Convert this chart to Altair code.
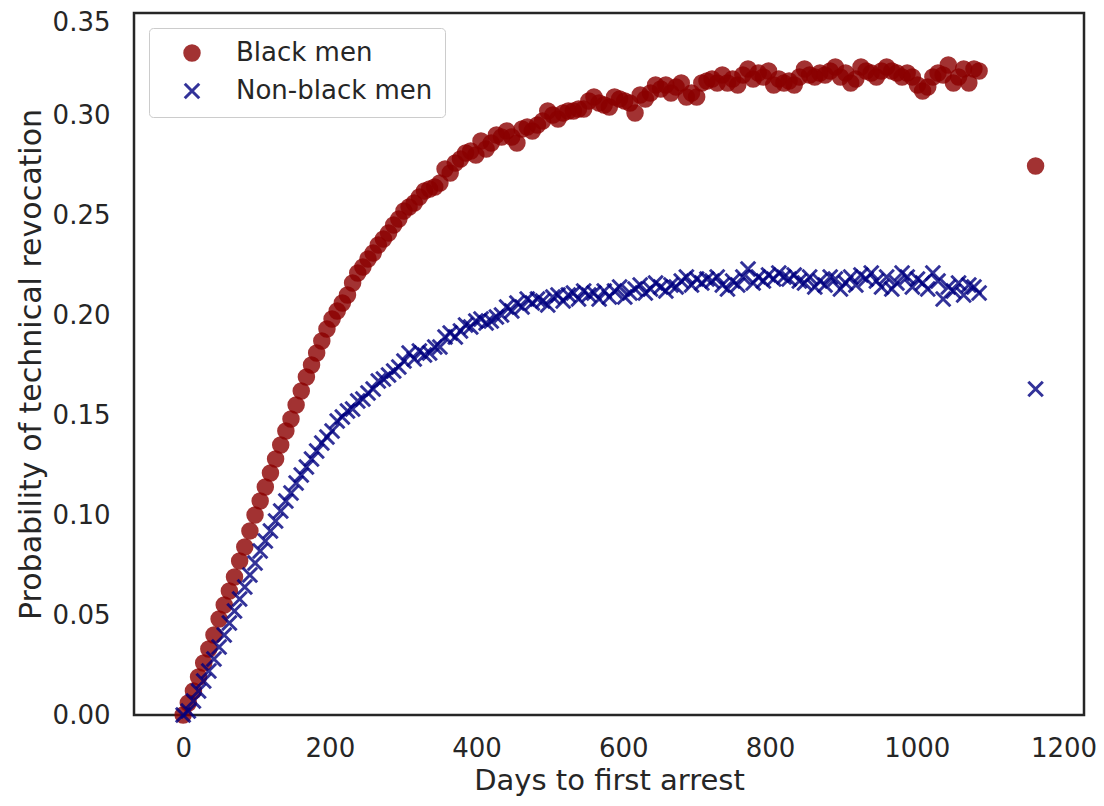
import altair as alt
import pandas as pd

# weekly bins (days to first arrest) + final bin
days = list(range(0, 1086, 7)) + [1162]

black_men = [
    0.000, 0.006, 0.012, 0.019, 0.026, 0.033, 0.040, 0.048, 0.055, 0.062,
    0.069, 0.077, 0.084, 0.092, 0.100, 0.107, 0.114, 0.121, 0.128, 0.135,
    0.142, 0.148, 0.155, 0.162, 0.169, 0.175, 0.181, 0.187, 0.193, 0.198,
    0.202, 0.206, 0.210, 0.216, 0.221, 0.224, 0.228, 0.231, 0.235, 0.238,
    0.241, 0.245, 0.248, 0.252, 0.254, 0.256, 0.259, 0.262, 0.263, 0.264,
    0.266, 0.273, 0.271, 0.276, 0.278, 0.281, 0.282, 0.280, 0.287, 0.283,
    0.286, 0.290, 0.289, 0.292, 0.289, 0.286, 0.293, 0.294, 0.292, 0.295,
    0.297, 0.302, 0.300, 0.298, 0.301, 0.302, 0.302, 0.303, 0.303, 0.307,
    0.309, 0.306, 0.305, 0.304, 0.309, 0.308, 0.307, 0.306, 0.301, 0.310,
    0.308, 0.311, 0.315, 0.313, 0.315, 0.311, 0.314, 0.316, 0.309, 0.311,
    0.309, 0.316, 0.317, 0.318, 0.316, 0.320, 0.316, 0.318, 0.315, 0.320,
    0.323, 0.318, 0.321, 0.319, 0.322, 0.315, 0.318, 0.316, 0.317, 0.315,
    0.319, 0.323, 0.320, 0.319, 0.321, 0.320, 0.322, 0.324, 0.319, 0.321,
    0.316, 0.318, 0.324, 0.322, 0.321, 0.319, 0.322, 0.324, 0.322, 0.321,
    0.319, 0.321, 0.319, 0.315, 0.312, 0.314, 0.319, 0.321, 0.320, 0.325,
    0.316, 0.319, 0.323, 0.316, 0.323, 0.322,
    0.2745,
]

non_black_men = [
    0.000, 0.002, 0.007, 0.012, 0.017, 0.022, 0.028, 0.034, 0.040, 0.046,
    0.052, 0.058, 0.064, 0.070, 0.076, 0.082, 0.087, 0.092, 0.097, 0.102,
    0.107, 0.111, 0.116, 0.120, 0.124, 0.128, 0.132, 0.136, 0.139, 0.142,
    0.147, 0.149, 0.152, 0.153, 0.157, 0.158, 0.161, 0.163, 0.167, 0.168,
    0.170, 0.172, 0.174, 0.177, 0.181, 0.178, 0.182, 0.180, 0.181, 0.184,
    0.184, 0.189, 0.191, 0.189, 0.192, 0.195, 0.194, 0.197, 0.198, 0.196,
    0.197, 0.199, 0.200, 0.204, 0.202, 0.206, 0.204, 0.208, 0.206, 0.208,
    0.207, 0.205, 0.209, 0.210, 0.207, 0.210, 0.211, 0.208, 0.212, 0.210,
    0.211, 0.208, 0.212, 0.209, 0.212, 0.214, 0.209, 0.211, 0.213, 0.215,
    0.211, 0.213, 0.216, 0.214, 0.212, 0.215, 0.214, 0.217, 0.219, 0.215,
    0.218, 0.216, 0.218, 0.217, 0.219, 0.215, 0.213, 0.217, 0.215, 0.219,
    0.223, 0.216, 0.219, 0.217, 0.220, 0.218, 0.221, 0.219, 0.218, 0.220,
    0.217, 0.216, 0.219, 0.214, 0.217, 0.215, 0.219, 0.218, 0.213, 0.216,
    0.219, 0.215, 0.220, 0.218, 0.221, 0.217, 0.214, 0.219, 0.213, 0.216,
    0.221, 0.219, 0.214, 0.218, 0.216, 0.213, 0.221, 0.217, 0.208, 0.214,
    0.212, 0.216, 0.210, 0.215, 0.214, 0.211,
    0.163,
]

groups = ["Black men", "Non-black men"]
x_ticks = [0, 200, 400, 600, 800, 1000, 1200]
y_ticks = [0.0, 0.05, 0.10, 0.15, 0.20, 0.25, 0.30, 0.35]

rows = []
for d, v in zip(days, black_men):
    rows.append({"day": d, "prob": v, "group": groups[0], "o": 0})
for d, v in zip(days, non_black_men):
    rows.append({"day": d, "prob": v, "group": groups[1], "o": 1})
df = pd.DataFrame(rows)

color_scale = alt.Scale(domain=groups, range=["#8b0000", "#000080"])
shape_scale = alt.Scale(domain=groups, range=["circle", "M-1,-1L1,1M-1,1L1,-1"])

legend = alt.Legend(
    title=None, orient="none", legendX=15, legendY=15,
    fillColor="white", strokeColor="#cccccc", cornerRadius=4,
    padding=12, labelFontSize=26, labelFont="DejaVu Sans", labelColor="#262626",
    labelLimit=0,
    symbolSize=210, symbolStrokeWidth=3, symbolOpacity=0.8,
    symbolOffset=18, labelOffset=31, rowPadding=10,
)

chart = alt.Chart(df).mark_point(filled=True, size=210, strokeWidth=3, opacity=0.8).encode(
    x=alt.X("day:Q",
            scale=alt.Scale(domain=[-67, 1228], nice=False, zero=False),
            axis=alt.Axis(values=x_ticks, title="Days to first arrest", format="d")),
    y=alt.Y("prob:Q",
            scale=alt.Scale(domain=[0, 0.351], nice=False),
            axis=alt.Axis(values=y_ticks, format=".2f",
                          title="Probability of technical revocation",
                          labelOffset={"condition": {"test": "datum.value > 0.34", "value": 7}, "value": 0})),
    color=alt.Color("group:N", scale=color_scale, legend=legend),
    stroke=alt.Stroke("group:N", scale=color_scale, legend=legend),
    shape=alt.Shape("group:N", scale=shape_scale, legend=legend),
    order=alt.Order("o:Q"),
).properties(
    width=950, height=702,
    padding={"left": 126, "top": 5, "right": 12, "bottom": 83},
    autosize=alt.AutoSizeParams(type="none"),
).configure_view(
    stroke="#262626", strokeWidth=2.5
).configure_axis(
    grid=False, domain=False, ticks=False, tickSize=0,
    labelFont="DejaVu Sans", labelFontSize=26, labelColor="#262626",
    titleFont="DejaVu Sans", titleFontSize=29, titleFontWeight="normal", titleColor="#262626",
).configure_axisX(
    labelPadding=20, titlePadding=5
).configure_axisY(
    labelPadding=24, titlePadding=6, titleFontSize=30
)

chart.save("out.html", embed_options={"renderer": "svg", "actions": False})
